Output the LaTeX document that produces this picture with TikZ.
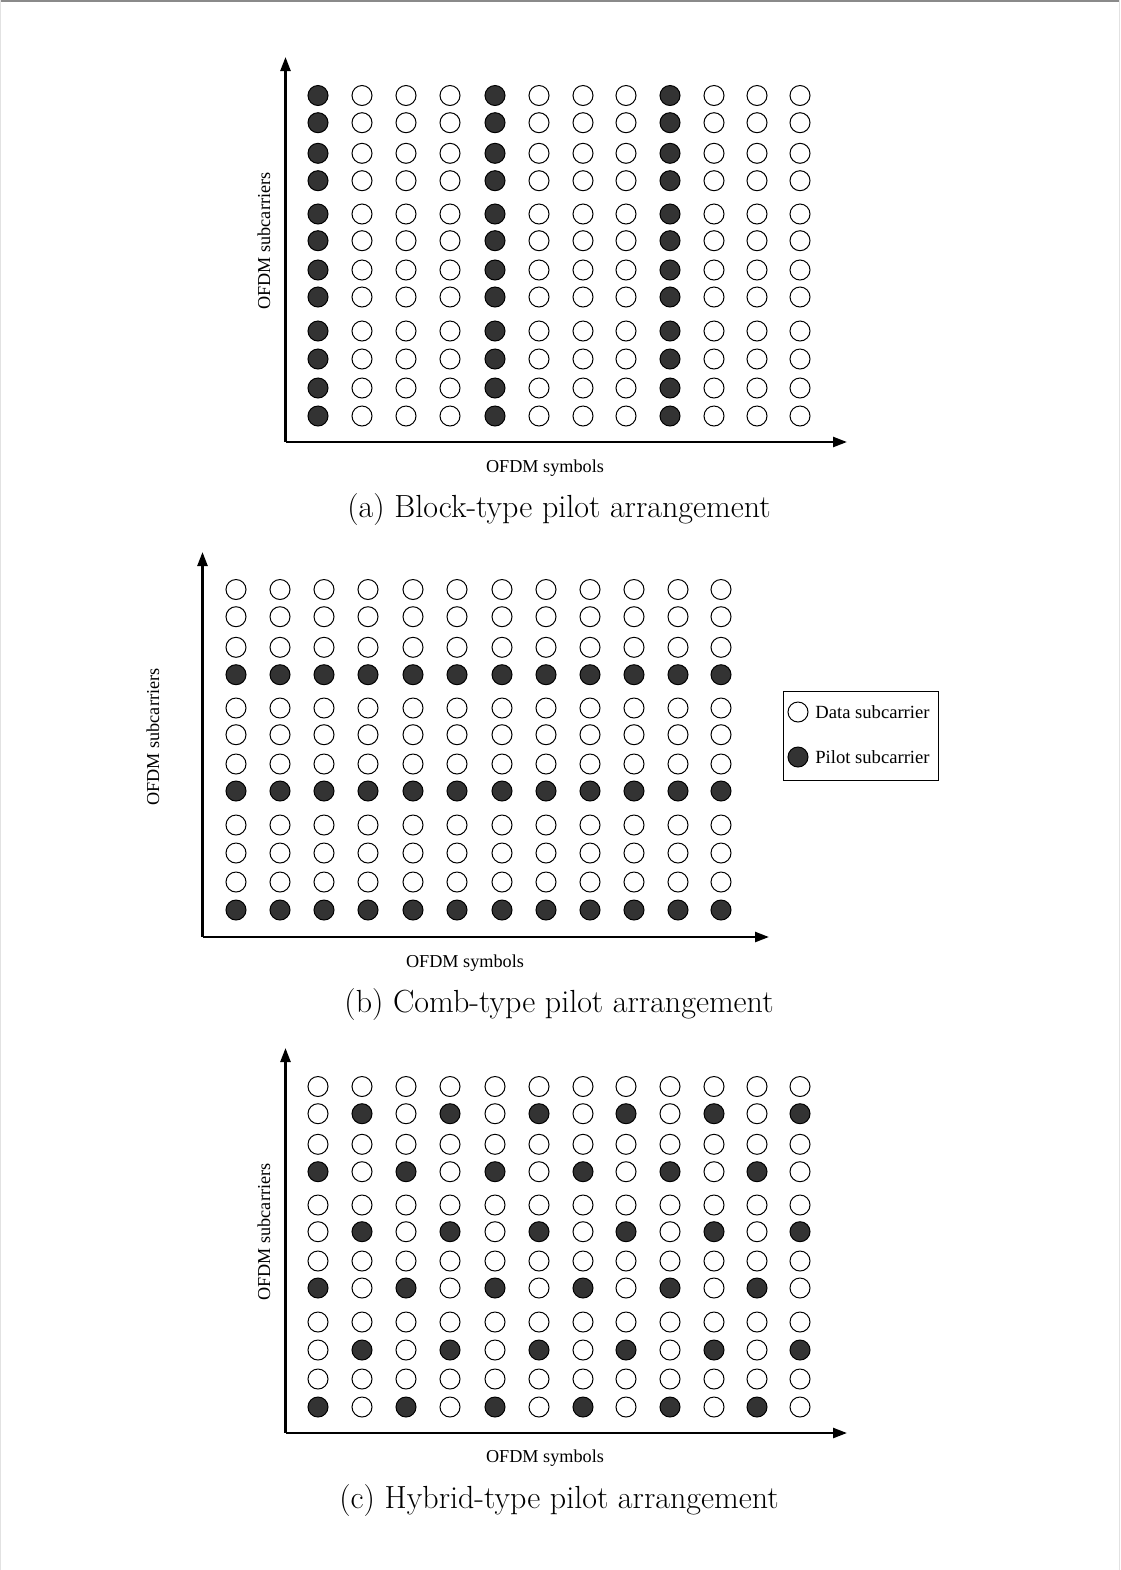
\documentclass[tikz,border=0pt]{standalone}
\usepackage{fontspec}
\newfontfamily\tms{Liberation Serif}
\usetikzlibrary{arrows.meta}
\definecolor{pilotgray}{HTML}{333333}
\definecolor{framegray}{HTML}{8A8A8A}
\definecolor{sidegray}{HTML}{E2E2E2}
\begin{document}
\begin{tikzpicture}[x=0.5pt,y=-0.5pt,
  dot/.style={circle,draw=black,line width=0.5pt,minimum size=10pt,inner sep=0pt},
  data/.style={dot,fill=white},
  pilot/.style={dot,fill=pilotgray},
  axis/.style={line width=1.2pt,-{Triangle[length=7pt,width=5pt]}},
  lab/.style={font=\tms\fontsize{9.1}{11}\selectfont,inner sep=0pt},
  leglab/.style={font=\tms\fontsize{9.3}{11}\selectfont,inner sep=0pt,anchor=west},
  captext/.style={font=\fontsize{16}{19}\selectfont,inner sep=0pt}]
\useasboundingbox (0,0) rectangle (1120,1570);
% page frame
\draw[framegray,line width=1pt] (0,1) -- (1120,1);
\draw[sidegray,line width=0.5pt] (0.5,0) -- (0.5,1570);
\draw[sidegray,line width=0.5pt] (1119.5,0) -- (1119.5,1570);

\def\rowsA{95.5,122.7,153.3,180.7,214,240.7,270,297,331,359,388,416}
\def\colsA{318,362,406,450,495,539,583,626,670,714,757,800}
\def\colsB{236,280,324,368,413,457,502,546,590,634,678,721}

% ---------- (a) Block-type ----------
\coordinate (ao) at (285.5,442);
\coordinate (ay) at (285.5,57);
\coordinate (ax) at (847,442);
\draw[axis] (ao) -- (ay);
\draw[axis] (ao) -- (ax);
\foreach \y [count=\r] in \rowsA {
  \foreach \x [count=\c] in \colsA {
    \pgfmathtruncatemacro{\mymod}{mod(\c-1,4)}
    \ifnum\mymod=0
      \node[pilot] (a-\r-\c) at (\x,\y) {};
    \else
      \node[data] (a-\r-\c) at (\x,\y) {};
    \fi
  }
}
\node[lab] (axa) at (545,468) {OFDM symbols};
\node[lab,rotate=90] (aya) at (264,241) {OFDM subcarriers};
\node[captext] (capa) at (559,510) {(a) Block-type pilot arrangement};

% ---------- (b) Comb-type ----------
\coordinate (bo) at (202.5,937);
\coordinate (by) at (202.5,552);
\coordinate (bx) at (769,937);
\draw[axis] (bo) -- (by);
\draw[axis] (bo) -- (bx);
\foreach \yy [count=\r] in \rowsA {
  \pgfmathsetmacro{\y}{\yy+494}
  \foreach \x [count=\c] in \colsB {
    \pgfmathtruncatemacro{\mymod}{mod(\r,4)}
    \ifnum\mymod=0
      \node[pilot] (b-\r-\c) at (\x,\y) {};
    \else
      \node[data] (b-\r-\c) at (\x,\y) {};
    \fi
  }
}
\node[lab] (axb) at (465,963) {OFDM symbols};
\node[lab,rotate=90] (ayb) at (153,737) {OFDM subcarriers};
\node[captext] (capb) at (559,1005) {(b) Comb-type pilot arrangement};
% legend
\node[draw=black,line width=0.5pt,minimum width=77.5pt,minimum height=44.5pt,inner sep=0pt] (leg) at (860.5,735.5) {};
\node[data] (legd) at (798,712) {};
\node[pilot] (legp) at (798,757) {};
\node[leglab] (legdt) at (815,712) {Data subcarrier};
\node[leglab] (legpt) at (815,757) {Pilot subcarrier};

% ---------- (c) Hybrid-type ----------
\coordinate (co) at (285.5,1433);
\coordinate (cy) at (285.5,1048);
\coordinate (cx) at (847,1433);
\draw[axis] (co) -- (cy);
\draw[axis] (co) -- (cx);
\foreach \yy [count=\r] in \rowsA {
  \pgfmathsetmacro{\y}{\yy+991}
  \foreach \x [count=\c] in \colsA {
    \pgfmathtruncatemacro{\rmod}{mod(\r,4)}
    \pgfmathtruncatemacro{\cmod}{mod(\c,2)}
    \pgfmathtruncatemacro{\isp}{(\rmod==2 && \cmod==0) || (\rmod==0 && \cmod==1) ? 1 : 0}
    \ifnum\isp=1
      \node[pilot] (c-\r-\c) at (\x,\y) {};
    \else
      \node[data] (c-\r-\c) at (\x,\y) {};
    \fi
  }
}
\node[lab] (axc) at (545,1458) {OFDM symbols};
\node[lab,rotate=90] (ayc) at (264,1232) {OFDM subcarriers};
\node[captext] (capc) at (559,1500) {(c) Hybrid-type pilot arrangement};
\end{tikzpicture}
\end{document}
